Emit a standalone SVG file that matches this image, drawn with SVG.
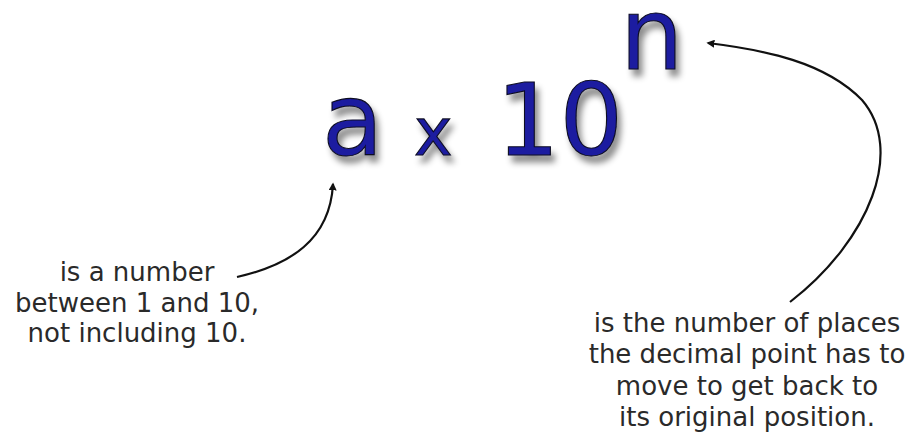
<svg xmlns="http://www.w3.org/2000/svg" width="914" height="434" viewBox="0 0 914 434">
<defs>
<filter id="sh" x="-20%" y="-30%" width="150%" height="170%">
<feDropShadow dx="4" dy="7" stdDeviation="3" flood-color="#000" flood-opacity="0.45"/>
</filter>
<marker id="ah" viewBox="0 0 10 10" refX="8" refY="5" markerWidth="8" markerHeight="8" orient="auto" markerUnits="userSpaceOnUse">
<path d="M0,0 L10,5 L0,10 z" fill="#111"/>
</marker>
<style>
.big{font-family:"DejaVu Sans",Verdana,sans-serif;fill:#1c1ca0;stroke:#0a0a20;stroke-width:1.1;filter:url(#sh)}
.lbl{font-family:"DejaVu Sans",Verdana,sans-serif;font-size:26px;fill:#2a2a2a;text-anchor:middle}
.con{fill:none;stroke:#111;stroke-width:2.2}
</style>
</defs>
<g id="formula">
<text class="big" x="322" y="155" font-size="100">a</text>
<text class="big" x="414" y="155" font-size="65">x</text>
<text class="big" x="496" y="155" font-size="100">10</text>
<text class="big" x="620" y="69" font-size="100">n</text>
</g>
<g id="label-a">
<text class="lbl" x="137" y="281">is a number</text>
<text class="lbl" x="137" y="312">between 1 and 10,</text>
<text class="lbl" x="137" y="342">not including 10.</text>
</g>
<g id="label-n">
<text class="lbl" x="747" y="332">is the number of places</text>
<text class="lbl" x="747" y="363">the decimal point has to</text>
<text class="lbl" x="747" y="395">move to get back to</text>
<text class="lbl" x="747" y="426">its original position.</text>
</g>
<g id="connectors">
<path class="con" d="M237 277 C290 265 330 240 333 184" marker-end="url(#ah)"/>
<path class="con" d="M790 302 C870 240 905 150 862 100 C825 62 765 50 708 43" marker-end="url(#ah)"/>
</g>
</svg>
